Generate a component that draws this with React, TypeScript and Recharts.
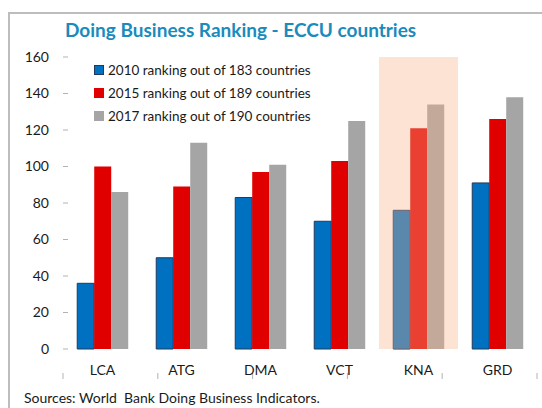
import React from 'react';
import {
  BarChart,
  Bar,
  XAxis,
  YAxis,
  Legend,
  ReferenceArea,
} from 'recharts';

const countries = ['LCA', 'ATG', 'DMA', 'VCT', 'KNA', 'GRD'];
const rank2010 = [36, 50, 83, 70, 76, 91];
const rank2015 = [100, 89, 97, 103, 121, 126];
const rank2017 = [86, 113, 101, 125, 134, 138];
const yTicks = [0, 20, 40, 60, 80, 100, 120, 140, 160];
const boundaryTicks = [0, 1, 2, 3, 4, 5, 6];
const highlighted = 'KNA';

const seriesInfo = [
  { key: 'r2010', label: '2010 ranking out of 183 countries', color: '#0070c0', stroke: '#1f3a5c' },
  { key: 'r2015', label: '2015 ranking out of 189 countries', color: '#e00000', stroke: 'none' },
  { key: 'r2017', label: '2017 ranking out of 190 countries', color: '#a5a5a5', stroke: 'none' },
];

const data = countries.map((name, i) => ({
  name,
  r2010: rank2010[i],
  r2015: rank2015[i],
  r2017: rank2017[i],
}));

const FONT = 'Lato, "Open Sans", sans-serif';
const AXIS_GRAY = '#b3b3b3';

// legend drawn as a plain vertical list inside the plot
const renderLegend = () => (
  <div style={{ fontFamily: FONT, fontSize: 13.5, color: '#1a1a1a' }}>
    {seriesInfo.map((s) => (
      <div key={s.key} style={{ display: 'flex', alignItems: 'center', height: 23 }}>
        <span
          style={{
            display: 'inline-block',
            width: 10,
            height: 10,
            background: s.color,
            boxSizing: 'border-box',
            border: s.stroke === 'none' ? 'none' : `1px solid ${s.stroke}`,
            marginRight: 4,
          }}
        />
        <span>{s.label}</span>
      </div>
    ))}
  </div>
);

export default function App() {
  return (
    <div
      style={{
        position: 'fixed',
        left: 0,
        top: 0,
        width: 542,
        height: 408,
        background: '#fff',
        overflow: 'hidden',
        fontFamily: FONT,
      }}
    >
      <div
        style={{
          position: 'absolute',
          left: 8,
          top: 12,
          width: 545,
          height: 420,
          border: '2px solid #bdbdbd',
          boxSizing: 'border-box',
        }}
      />
      <div
        style={{
          position: 'absolute',
          left: 65,
          top: 18,
          fontSize: 19,
          fontWeight: 700,
          color: '#1a8bbd',
          whiteSpace: 'nowrap',
        }}
      >
        Doing Business Ranking - ECCU countries
      </div>
      <div style={{ position: 'absolute', left: 0, top: 0 }}>
        <BarChart
          width={542}
          height={408}
          data={data}
          margin={{ top: 57, right: 5, left: 0, bottom: 28 }}
          barCategoryGap="18%"
          barGap={0}
        >
          <XAxis
            xAxisId="bounds"
            type="number"
            domain={[0, 6]}
            ticks={boundaryTicks}
            height={1}
            axisLine={false}
            tickSize={-6}
            tickLine={{ stroke: AXIS_GRAY }}
            tickFormatter={() => ''}
          />
          <XAxis
            dataKey="name"
            height={30}
            axisLine={false}
            tickLine={false}
            tickMargin={10}
            tick={{ fill: '#1a1a1a', fontSize: 14, fontFamily: FONT }}
          />
          <YAxis
            width={63}
            domain={[0, 160]}
            ticks={yTicks}
            interval={0}
            axisLine={false}
            tickSize={-5}
            tickMargin={19}
            tickLine={{ stroke: AXIS_GRAY }}
            tick={{ fill: '#1a1a1a', fontSize: 14, fontFamily: FONT }}
          />
          {seriesInfo.map((s) => (
            <Bar
              key={s.key}
              dataKey={s.key}
              name={s.label}
              fill={s.color}
              stroke={s.stroke}
              strokeWidth={1}
              isAnimationActive={false}
            />
          ))}
          {/* KNA shading sits on top of its bars, like the original */}
          <ReferenceArea
            x1={highlighted}
            x2={highlighted}
            fill="#f9b288"
            fillOpacity={0.36}
            stroke="none"
            zIndex={350}
          />
          <ReferenceArea
            fill="none"
            stroke={AXIS_GRAY}
            strokeWidth={1}
            zIndex={360}
          />
          <Legend
            layout="vertical"
            align="center"
            verticalAlign="middle"
            content={renderLegend}
            wrapperStyle={{ position: 'absolute', left: 94, top: 58, width: 260 }}
          />
        </BarChart>
      </div>
      <div
        style={{
          position: 'absolute',
          left: 24,
          top: 389,
          fontSize: 14,
          color: '#1a1a1a',
          whiteSpace: 'nowrap',
        }}
      >
        Sources: World&nbsp; Bank Doing Business Indicators.
      </div>
    </div>
  );
}
